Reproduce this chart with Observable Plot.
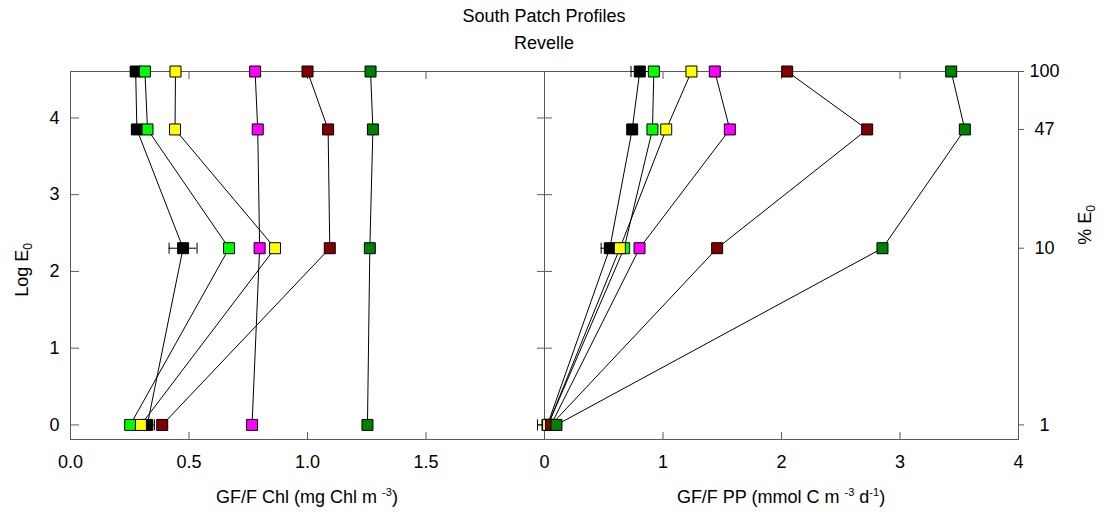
<!DOCTYPE html>
<html><head><meta charset="utf-8">
<script src="https://cdn.jsdelivr.net/npm/d3@7"></script>
<script src="https://cdn.jsdelivr.net/npm/@observablehq/plot@0.6"></script>
<style>
body{margin:0;background:#fff;font-family:Arial,"Liberation Sans",sans-serif;}
#wrap{position:relative;width:1102px;height:515px;overflow:hidden;}
#wrap svg{position:absolute;top:0;}
.lbl{position:absolute;font-size:18px;line-height:18px;color:#000;white-space:nowrap;}
.lbl sup{font-size:11px;vertical-align:7px;line-height:0;}
.lbl sub{font-size:12px;vertical-align:-4px;line-height:0;}
</style></head><body><div id="wrap"></div>
<script>
// light levels (% of surface irradiance)
const lightPct = [100, 47, 10, 1];
const seriesNames = ["black", "lime", "yellow", "magenta", "darkred", "green"];
const seriesColors = ["#000000", "#00ff00", "#ffff00", "#ff00ff", "#800000", "#008000"];

// GF/F Chl (mg Chl m-3), per light level 100, 47, 10, 1
const chlBlack   = [0.275, 0.280, 0.475, 0.324];
const chlLime    = [0.314, 0.325, 0.669, 0.252];
const chlYellow  = [0.443, 0.441, 0.863, 0.297];
const chlMagenta = [0.779, 0.790, 0.798, 0.766];
const chlDarkred = [1.000, 1.087, 1.094, 0.387];
const chlGreen   = [1.266, 1.276, 1.263, 1.253];
const chlBlackErr = [0.020, 0.020, 0.059, 0.030];

// GF/F PP (mmol C m-3 d-1)
const ppBlack   = [0.804, 0.740, 0.551, 0.025];
const ppLime    = [0.923, 0.911, 0.672, 0.030];
const ppYellow  = [1.240, 1.027, 0.636, 0.030];
const ppMagenta = [1.437, 1.564, 0.802, 0.055];
const ppDarkred = [2.048, 2.723, 1.457, 0.055];
const ppGreen   = [3.432, 3.547, 2.852, 0.101];
const ppBlackErr = [0.074, 0.030, 0.073, 0.084];

const logTicks = [0, 1, 2, 3, 4];
const chlTicks = [0, 0.5, 1.0, 1.5];
const ppTicks = [0, 1, 2, 3, 4];

function rows(arrays) {
  const out = [];
  arrays.forEach((vals, si) => {
    vals.forEach((v, i) => out.push({series: seriesNames[si], color: seriesColors[si], pct: lightPct[i], logE: Math.log(lightPct[i]), value: v}));
  });
  return out;
}
function errRows(vals, errs) {
  return vals.map((v, i) => ({logE: Math.log(lightPct[i]), lo: v - errs[i], hi: v + errs[i]}));
}
const chlData = rows([chlBlack, chlLime, chlYellow, chlMagenta, chlDarkred, chlGreen]);
const ppData = rows([ppBlack, ppLime, ppYellow, ppMagenta, ppDarkred, ppGreen]);
const chlErr = errRows(chlBlack, chlBlackErr);
const ppErr = errRows(ppBlack, ppBlackErr);

const capSymbol = {draw(ctx, size) { const h = Math.sqrt(size) / 2; ctx.moveTo(0, -h); ctx.lineTo(0, h); }};
const frameColor = "#5a5a5a";
const yDomain = [-0.19, Math.log(100)];
const font = "Arial, 'Liberation Sans', sans-serif";

function dataMarks(data, err) {
  return [
    Plot.line(data, {x: "value", y: "logE", z: "series", stroke: "black", strokeWidth: 1}),
    Plot.ruleY(err, {y: "logE", x1: "lo", x2: "hi", stroke: "black", strokeWidth: 1}),
    Plot.dot(err, {x: "lo", y: "logE", symbol: capSymbol, r: 6.2, stroke: "black", fill: "none", strokeWidth: 1}),
    Plot.dot(err, {x: "hi", y: "logE", symbol: capSymbol, r: 6.2, stroke: "black", fill: "none", strokeWidth: 1}),
    Plot.dot(data, {x: "value", y: "logE", symbol: "square", r: 6.2, fill: "color", stroke: "black", strokeWidth: 1})
  ];
}

const blank = () => "";
const left = Plot.plot({
  width: 544, height: 515,
  marginLeft: 70, marginRight: 0, marginTop: 71, marginBottom: 76,
  style: {background: "transparent", overflow: "visible", fontSize: "18px", fontFamily: font, color: "black"},
  x: {domain: [0, 2]},
  y: {domain: yDomain},
  marks: [
    Plot.axisY(logTicks, {anchor: "left", tickSize: 0, tickPadding: 11, label: null, tickFormat: d3.format("d"), fill: "black"}),
    Plot.axisY(logTicks, {anchor: "left", tickSize: 9, dx: 9, label: null, tickFormat: blank, stroke: frameColor}),
    Plot.axisY(logTicks, {anchor: "right", tickSize: 8, dx: -8, label: null, tickFormat: blank, stroke: frameColor}),
    Plot.axisX(chlTicks, {anchor: "bottom", tickSize: 0, tickPadding: 16, label: null, tickFormat: d3.format(".1f"), fill: "black"}),
    Plot.axisX(chlTicks.slice(1), {anchor: "bottom", tickSize: 7, dy: -7, label: null, tickFormat: blank, stroke: frameColor}),
    Plot.axisX(chlTicks.slice(1), {anchor: "top", tickSize: 7, dy: 7, label: null, tickFormat: blank, stroke: frameColor}),
    Plot.frame({stroke: frameColor}),
    ...dataMarks(chlData, chlErr)
  ]
});
left.style.left = "0px";

const right = Plot.plot({
  width: 558, height: 515,
  marginLeft: 0, marginRight: 84, marginTop: 71, marginBottom: 76,
  style: {background: "transparent", overflow: "visible", fontSize: "18px", fontFamily: font, color: "black"},
  x: {domain: [0, 4]},
  y: {domain: yDomain},
  marks: [
    Plot.axisY(logTicks, {anchor: "left", tickSize: 8, dx: 8, label: null, tickFormat: blank, stroke: frameColor}),
    Plot.axisY(lightPct.map(p => Math.log(p)), {anchor: "right", tickSize: 5, tickPadding: 21, textAnchor: "middle", label: null,
      tickFormat: d => String(Math.round(Math.exp(d))), stroke: frameColor, fill: "black"}),
    Plot.axisX(ppTicks, {anchor: "bottom", tickSize: 0, tickPadding: 16, label: null, tickFormat: d3.format("d"), fill: "black"}),
    Plot.axisX(ppTicks.slice(1, 4), {anchor: "bottom", tickSize: 7, dy: -7, label: null, tickFormat: blank, stroke: frameColor}),
    Plot.axisX(ppTicks.slice(1, 4), {anchor: "top", tickSize: 7, dy: 7, label: null, tickFormat: blank, stroke: frameColor}),
    Plot.frame({stroke: frameColor}),
    ...dataMarks(ppData, ppErr)
  ]
});
right.style.left = "544px";

const wrap = document.getElementById("wrap");
wrap.append(left, right);

function addLabel(html, x, y, rotate) {
  const d = document.createElement("div");
  d.className = "lbl";
  d.innerHTML = html;
  d.style.left = x + "px";
  d.style.top = y + "px";
  d.style.transform = "translate(-50%,-50%)" + (rotate ? " rotate(" + rotate + "deg)" : "");
  wrap.append(d);
}
addLabel("South Patch Profiles", 544, 16);
addLabel("Revelle", 544, 43);
addLabel("Log E<sub>0</sub>", 22, 270, -90);
addLabel("% E<sub>0</sub>", 1085, 225, -90);
addLabel("GF/F Chl (mg Chl m <sup>-3</sup>)", 307, 497);
addLabel("GF/F PP (mmol C m <sup>-3</sup> d<sup>-1</sup>)", 781, 497);
</script>
</body></html>
